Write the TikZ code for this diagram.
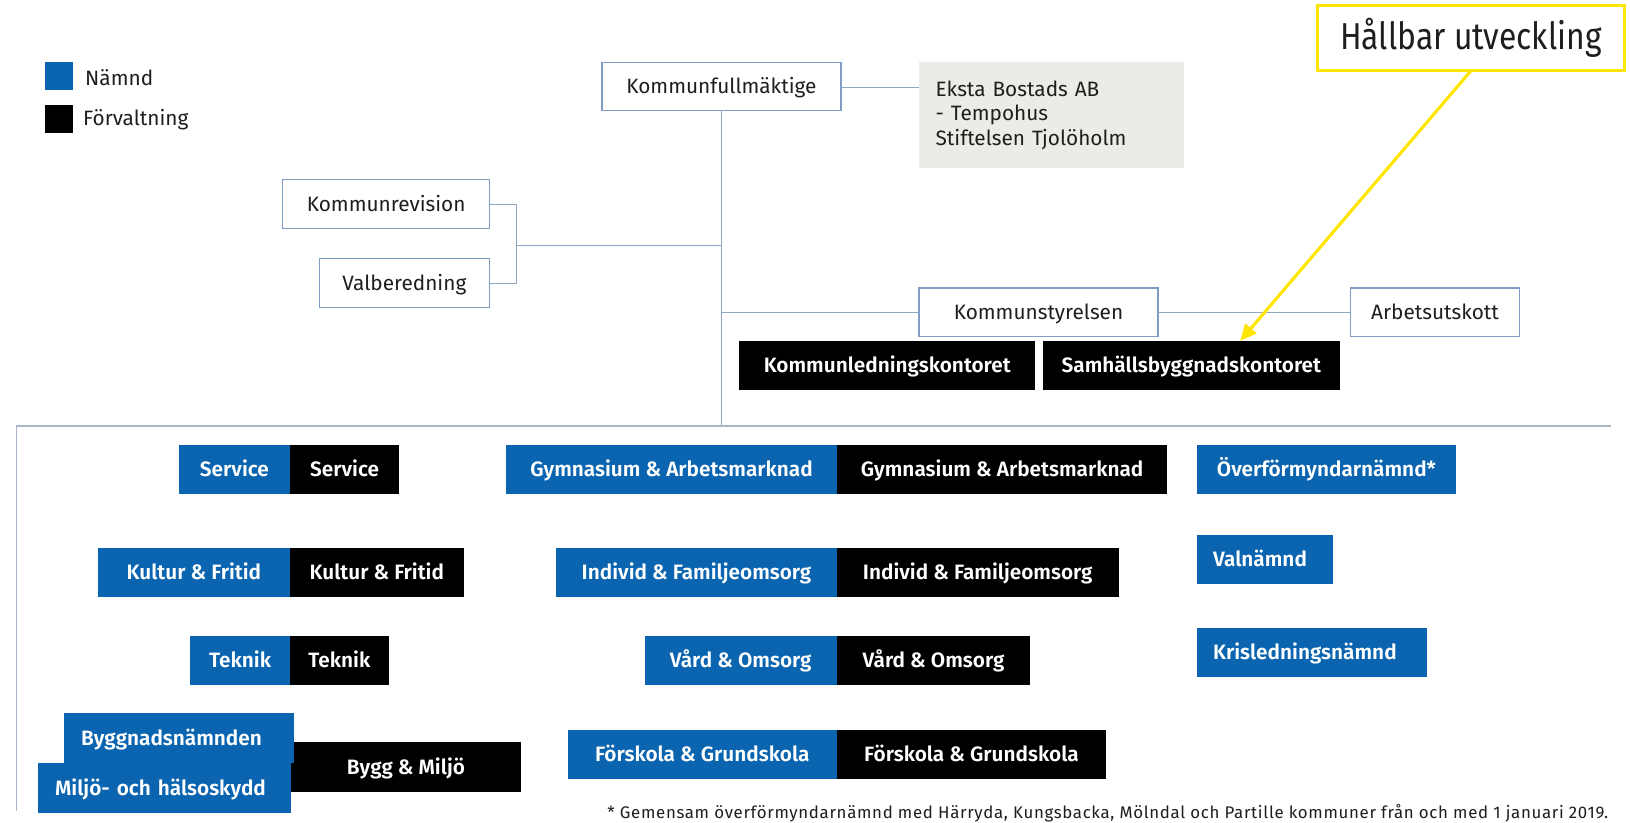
\documentclass[tikz,border=0pt]{standalone}
\usepackage{fontspec}
\setmainfont{Fira Sans}[BoldFont={Fira Sans SemiBold}]
\newfontfamily\condfont[FakeStretch=0.85]{Fira Sans}
\usetikzlibrary{arrows.meta}
\definecolor{nblue}{HTML}{0A64B0}
\definecolor{bordc}{HTML}{7E9CC4}
\definecolor{linec}{HTML}{8FA6C4}
\definecolor{hlinec}{HTML}{A9B6C8}
\definecolor{graybox}{HTML}{ECEBE6}
\definecolor{yel}{HTML}{FFE600}
\definecolor{txt}{HTML}{1E1E1E}
\newcommand\bx[7]{%
 \pgfmathsetmacro\bxw{(#5-(#3))*0.5}%
 \pgfmathsetmacro\bxh{(#6-(#4))*0.5}%
 \pgfmathsetmacro\bxcx{(#3+#5)/2}%
 \pgfmathsetmacro\bxcy{(#4+#6)/2}%
 \node[#1,minimum width=\bxw pt,minimum height=\bxh pt] (#2) at (\bxcx,\bxcy) {#7};}
\newcommand\bxl[7]{%
 \pgfmathsetmacro\bxw{(#5-(#3))*0.5}%
 \pgfmathsetmacro\bxtw{(#5-(#3))*0.5-16}%
 \pgfmathsetmacro\bxh{(#6-(#4))*0.5}%
 \pgfmathsetmacro\bxcx{(#3+#5)/2}%
 \pgfmathsetmacro\bxcy{(#4+#6)/2}%
 \node[#1,inner xsep=8pt,text width=\bxtw pt,align=left,minimum height=\bxh pt] (#2) at (\bxcx,\bxcy) {#7};}
\tikzset{
 base/.style={inner sep=0pt, outer sep=0pt, font=\fontsize{10}{12}\selectfont, text height=6.9pt, text depth=0pt},
 wbox/.style={base, draw=bordc, line width=0.6pt, fill=white, text=txt},
 gbox/.style={inner sep=0pt, outer sep=0pt, fill=graybox, text=txt, font=\fontsize{10}{11.8}\selectfont},
 nbox/.style={base, fill=nblue, text=white, font=\fontsize{10}{12}\selectfont\bfseries},
 fbox/.style={base, fill=black, text=white, font=\fontsize{10}{12}\selectfont\bfseries},
 conn/.style={draw=linec, line width=0.7pt},
 lbl/.style={inner sep=0pt, outer sep=0pt, text=txt, font=\fontsize{10}{12}\selectfont},
}
\begin{document}
\begin{tikzpicture}[x=0.5pt,y=-0.5pt]
\fill[white] (0,0) rectangle (1568,791);
\useasboundingbox (0,0) rectangle (1568,791);
% legend
\bx{nbox}{legn}{43}{60}{70}{87}{}
\bx{fbox}{legf}{43}{101}{70}{128}{}
\node[lbl,anchor=west] (legnt) at (82,75) {Nämnd};
\node[lbl,anchor=west] (legft) at (80,115) {Förvaltning};
% top structure
\bx{wbox}{kf}{579}{60}{809}{106}{Kommunfullmäktige}
\bxl{gbox}{eksta}{884}{60}{1139}{162}{Eksta Bostads AB\\- Tempohus\\Stiftelsen Tjolöholm}
\bx{wbox}{kr}{272}{173}{471}{220}{Kommunrevision}
\bx{wbox}{vb}{307}{249}{471}{296}{Valberedning}
\bx{wbox}{ks}{884}{277}{1114}{324}{Kommunstyrelsen}
\bx{wbox}{au}{1299}{277}{1462}{324}{Arbetsutskott}
\bx{fbox}{klk}{711}{328}{996}{375}{Kommunledningskontoret}
\bx{fbox}{sbk}{1003}{328}{1289}{375}{Samhällsbyggnadskontoret}
\coordinate (hb) at (694,410);
\coordinate (hl) at (16,410);
\coordinate (hr) at (1550,410);
\coordinate (hlb) at (16,780);
\coordinate (br) at (497,236);
\draw[conn] (kf.south) -- (hb);
\draw[conn] ([yshift=-0.5pt]kf.east) -- ([yshift=-0.5pt]kf.east -| eksta.west);
\draw[conn] (kr.east) -| (br) |- (vb.east);
\draw[conn] (br) -- (br -| kf.south);
\draw[conn] (ks.west) -- (ks.west -| kf.south);
\draw[conn] (ks.east) -- (au.west);
\draw[draw=hlinec, line width=0.8pt] (hr) -- (hl) -- (hlb);
% bottom row 1
\bx{nbox}{sv1}{172}{428}{279}{475}{Service}
\bx{fbox}{sv2}{279}{428}{384}{475}{Service}
\bx{nbox}{gy1}{487}{428}{805}{475}{Gymnasium \& Arbetsmarknad}
\bx{fbox}{gy2}{805}{428}{1123}{475}{Gymnasium \& Arbetsmarknad}
\bx{nbox}{ov}{1151}{428}{1401}{475}{Överförmyndarnämnd*}
% row 2
\bx{nbox}{ku1}{94}{527}{279}{574}{Kultur \& Fritid}
\bx{fbox}{ku2}{279}{527}{446}{574}{Kultur \& Fritid}
\bx{nbox}{in1}{535}{527}{805}{574}{Individ \& Familjeomsorg}
\bx{fbox}{in2}{805}{527}{1076}{574}{Individ \& Familjeomsorg}
\bxl{nbox}{vn}{1151}{515}{1282}{562}{Valnämnd}
% row 3
\bx{nbox}{te1}{183}{612}{279}{659}{Teknik}
\bx{fbox}{te2}{279}{612}{374}{659}{Teknik}
\bx{nbox}{va1}{620}{612}{805}{659}{Vård \& Omsorg}
\bx{fbox}{va2}{805}{612}{991}{659}{Vård \& Omsorg}
\bxl{nbox}{kl}{1151}{604}{1373}{651}{Krisledningsnämnd}
% row 4
\bx{fbox}{bm}{280}{714}{501}{762}{Bygg \& Miljö}
\bxl{nbox}{by}{62}{686}{283}{734}{Byggnadsnämnden}
\bxl{nbox}{mi}{37}{734}{280}{782}{Miljö- och hälsoskydd}
\bx{nbox}{fo1}{546}{702}{805}{749}{Förskola \& Grundskola}
\bx{fbox}{fo2}{805}{702}{1064}{749}{Förskola \& Grundskola}
% footnote
\node[lbl,anchor=east,font=\fontsize{8.1}{9.5}\selectfont\addfontfeature{LetterSpace=4}] (fn) at (1547,782) {* Gemensam överförmyndarnämnd med Härryda, Kungsbacka, Mölndal och Partille kommuner från och med 1 januari 2019.};
% annotation
\bx{inner sep=0pt,outer sep=0pt,draw=yel,line width=1.5pt,fill=white,text=txt,font=\condfont\fontsize{18}{21}\selectfont}{hu}{1267}{5}{1563}{68}{Hållbar utveckling}
\coordinate (arrtip) at (1193,328);
\draw[yel, line width=1.5pt, -{Triangle[length=8pt,width=7pt]}] (hu.south) -- (arrtip);
\end{tikzpicture}
\end{document}
